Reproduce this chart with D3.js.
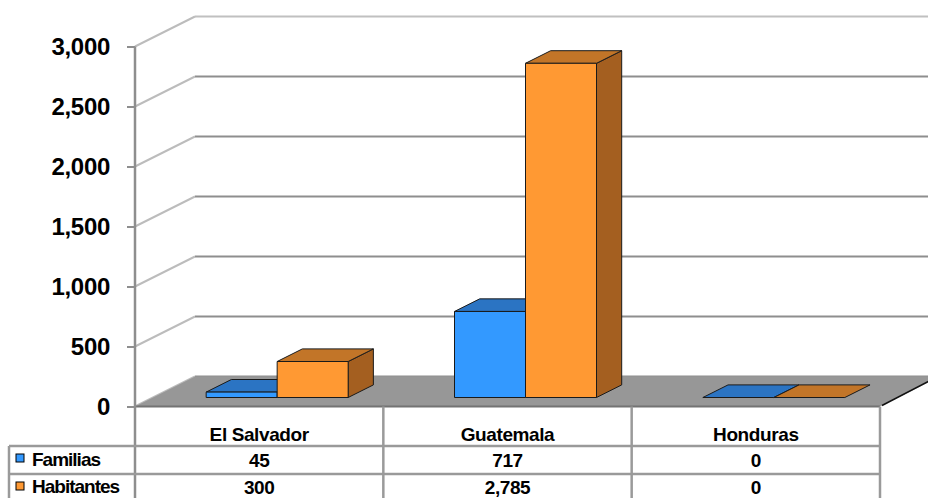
<!DOCTYPE html>
<html lang="es">
<head>
<meta charset="UTF-8">
<title>Familias y Habitantes</title>
<script src="https://d3js.org/d3.v7.min.js"></script>
<style>
    body { margin: 0; background: #fff; }
    svg { display: block; }
    text { font-family: 'Liberation Sans', Arial, sans-serif; font-weight: bold; fill: #000; }
</style>
</head>
<body>
<svg width="928" height="498"></svg>
<script>
// data
var categories = ["El Salvador", "Guatemala", "Honduras"];
var series = ["Familias", "Habitantes"];
var familias = [45, 717, 0];
var habitantes = [300, 2785, 0];
var yTicks = [0, 500, 1000, 1500, 2000, 2500, 3000];

var values = [familias, habitantes];
var colors = {
    front: ["#3399ff", "#ff9933"],
    top:   ["#2b74c3", "#c27528"],
    side:  ["#2561a3", "#a45f20"]
};

var svg = d3.select("svg");

// oblique depth offset of the chart box
var depthX = 60, depthY = -30;
var axisX = 135, plotRight = 880;

var y = d3.scaleLinear().domain([0, 3000]).range([406.5, 46.5]);
var x = d3.scaleBand().domain(categories).range([axisX, plotRight]);
var xs = d3.scaleBand().domain(series).range([-71, 71]);

// bars sit between these depth fractions
var d0 = 0.3, d1 = 0.72;

function pt(px, v, d) {
    return [px + depthX * d, y(v) + depthY * d];
}

// back wall + left wall grid
var grid = svg.append("g");
yTicks.forEach(function(t) {
    var top = t === 3000;
    grid.append("line")
        .attr("x1", axisX + depthX).attr("x2", 940)
        .attr("y1", y(t) + depthY).attr("y2", y(t) + depthY)
        .attr("stroke", top ? "#c0c0c0" : "#8e8e8e")
        .attr("stroke-width", 2);
    grid.append("line")
        .attr("x1", axisX).attr("x2", axisX + depthX)
        .attr("y1", y(t)).attr("y2", y(t) + depthY)
        .attr("stroke", "#bcbcbc")
        .attr("stroke-width", 2);
});

// floor
svg.append("path")
    .attr("d", d3.line()([pt(axisX, 0, 0), pt(plotRight, 0, 0), pt(plotRight, 0, 1), pt(axisX, 0, 1)]) + "Z")
    .attr("fill", "#979797");
svg.append("line")
    .attr("x1", plotRight + 2).attr("y1", y(0) - 1)
    .attr("x2", 940).attr("y2", y(0) + depthY - 1)
    .attr("stroke", "#111").attr("stroke-width", 1.5);
svg.append("line")
    .attr("x1", axisX).attr("x2", plotRight)
    .attr("y1", y(0)).attr("y2", y(0))
    .attr("stroke", "#737373").attr("stroke-width", 2);

// bars
var bars = svg.append("g")
    .attr("stroke", "#1a1a1a").attr("stroke-width", 1).attr("stroke-linejoin", "round");

categories.forEach(function(c, i) {
    series.forEach(function(s, j) {
        var v = values[j][i];
        var xl = x(c) + x.bandwidth() / 2 + xs(s);
        var xr = xl + xs.bandwidth();
        var poly = function(ps) { return d3.line()(ps) + "Z"; };
        // side
        if (v > 0) {
            bars.append("path")
                .attr("d", poly([pt(xr, 0, d0), pt(xr, v, d0), pt(xr, v, d1), pt(xr, 0, d1)]))
                .attr("fill", colors.side[j]);
        }
        // top
        bars.append("path")
            .attr("d", poly([pt(xl, v, d0), pt(xr, v, d0), pt(xr, v, d1), pt(xl, v, d1)]))
            .attr("fill", colors.top[j]);
        // front
        if (v > 0) {
            bars.append("path")
                .attr("d", poly([pt(xl, 0, d0), pt(xr, 0, d0), pt(xr, v, d0), pt(xl, v, d0)]))
                .attr("fill", colors.front[j]);
        }
    });
});

// y axis
svg.append("line")
    .attr("x1", axisX).attr("x2", axisX)
    .attr("y1", y(3000)).attr("y2", 498)
    .attr("stroke", "#8e8e8e").attr("stroke-width", 2.5);

var yAxis = svg.append("g").attr("transform", "translate(" + axisX + ",0)")
    .call(d3.axisLeft(y).tickValues(yTicks).tickFormat(d3.format(",")).tickSize(8).tickPadding(17));
yAxis.select(".domain").remove();
yAxis.selectAll(".tick line").attr("stroke", "#8e8e8e").attr("stroke-width", 2);
yAxis.selectAll(".tick text")
    .attr("font-size", 24)
    .attr("font-family", "'Liberation Sans', Arial, sans-serif")
    .attr("font-weight", "bold")
    .attr("fill", "#000")
    .attr("letter-spacing", -0.3);

// data table
var rowY = [y(0), 446, 474, 498];
var table = svg.append("g").attr("stroke", "#9a9a9a").attr("stroke-width", 2.5);
[rowY[1], rowY[2]].forEach(function(ry) {
    table.append("line").attr("x1", 9).attr("x2", plotRight).attr("y1", ry).attr("y2", ry);
});
categories.forEach(function(c) {
    table.append("line").attr("x1", x(c) + x.bandwidth()).attr("x2", x(c) + x.bandwidth())
        .attr("y1", y(0)).attr("y2", 498);
});
table.append("line").attr("x1", 9).attr("x2", 9).attr("y1", rowY[1]).attr("y2", 498);

var fmt = d3.format(",");
categories.forEach(function(c, i) {
    var cx = x(c) + x.bandwidth() / 2;
    svg.append("text").attr("x", cx).attr("y", 441)
        .attr("text-anchor", "middle").attr("font-size", 19).attr("letter-spacing", -0.4)
        .text(c);
    values.forEach(function(vals, j) {
        svg.append("text").attr("x", cx).attr("y", j === 0 ? 467 : 494)
            .attr("text-anchor", "middle").attr("font-size", 19).attr("letter-spacing", -0.4)
            .text(fmt(vals[i]));
    });
});

series.forEach(function(s, j) {
    var ry = rowY[j + 1];
    svg.append("rect")
        .attr("x", 16).attr("y", ry + 8).attr("width", 8).attr("height", 8)
        .attr("fill", colors.front[j]).attr("stroke", "#000").attr("stroke-width", 1);
    svg.append("text").attr("x", 32).attr("y", ry + (j === 0 ? 20 : 19))
        .attr("font-size", 19).attr("letter-spacing", -1)
        .text(s);
});
</script>
</body>
</html>
